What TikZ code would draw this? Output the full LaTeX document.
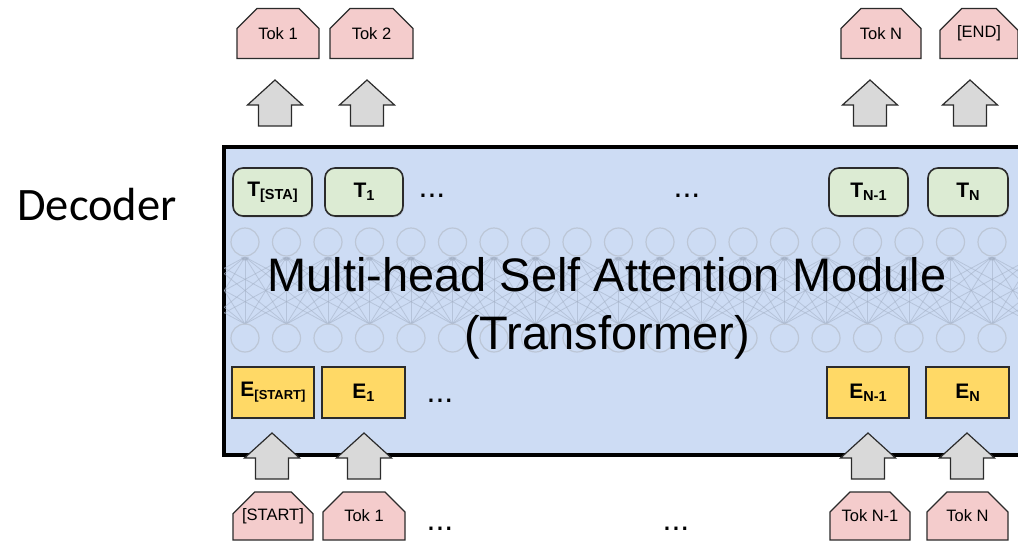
\documentclass[tikz,border=0pt]{standalone}
\usepackage{fontspec}
\setmainfont{Liberation Sans}
\newfontfamily\calfont{Carlito}
\usetikzlibrary{shapes.misc,shadows,calc,arrows.meta}
\definecolor{boxblue}{HTML}{CDDCF4}
\definecolor{tokpink}{HTML}{F4CCCC}
\definecolor{tgreen}{HTML}{DCEBD3}
\definecolor{eyellow}{HTML}{FFD966}
\definecolor{arrgray}{HTML}{D9D9D9}
\definecolor{netcirc}{HTML}{BCC6D6}
\definecolor{netline}{HTML}{A3B0C5}
\definecolor{edge}{HTML}{2B2B2B}
\newcommand{\lowsub}[2]{\raisebox{-3pt}{\fontsize{#1}{#1}\selectfont #2}}
\begin{document}
\begin{tikzpicture}[x=1pt,y=-1pt,
  tokbox/.style={chamfered rectangle, chamfered rectangle corners={north west,north east},
    chamfered rectangle xsep=10pt, chamfered rectangle ysep=14pt,
    draw=edge, line width=1.3pt, fill=tokpink, inner sep=0pt,
    minimum height=50pt, font=\fontsize{16.5}{16.5}\selectfont},
  tbox/.style={draw=edge, line width=1.6pt, rounded corners=10pt, fill=tgreen,
    minimum width=79pt, minimum height=48pt, inner sep=0pt,
    drop shadow={shadow xshift=1pt, shadow yshift=-1.5pt, opacity=0.25},
    font=\bfseries\fontsize{21}{21}\selectfont},
  ebox/.style={draw=edge, line width=1.6pt, fill=eyellow,
    minimum width=82pt, minimum height=51pt, inner sep=0pt,
    font=\bfseries\fontsize{21}{21}\selectfont},
  dotsnode/.style={anchor=base, inner sep=0pt, font=\fontsize{32}{32}\selectfont},
  netcircle/.style={draw=netcirc, line width=1.2pt},
  netedge/.style={draw=netline, line width=0.8pt, opacity=0.55},
  blockup/.pic={\draw[fill=arrgray, draw=edge, line width=1.2pt, line join=miter]
    (0pt,0pt) -- (27.5pt,-25pt) -- (16.5pt,-25pt) -- (16.5pt,-46pt) -- (-16.5pt,-46pt)
    -- (-16.5pt,-25pt) -- (-27.5pt,-25pt) -- cycle;}
]
\clip (0,0) rectangle (1018,541);
\fill[white] (0,0) rectangle (1018,541);

% main decoder box
\node[draw=black, line width=4pt, fill=boxblue, anchor=north west,
  minimum width=830pt, minimum height=308pt, inner sep=0pt] (dec) at (222,145) {};

% faint network in the background
\begin{scope}
\clip (224,147) rectangle (1018,451);
\foreach \i in {-4,...,22} {
  \foreach \d in {-3,...,3} {
    \pgfmathsetmacro{\xa}{245+41.5*\i}
    \pgfmathsetmacro{\xb}{245+41.5*(\i+\d)}
    \draw[netedge, -{Stealth[length=4pt,width=3pt]}] (\xa,324) -- (\xb,257);
  }
}
\foreach \i in {-1,...,19} {
  \pgfmathsetmacro{\xc}{245+41.5*\i}
  \draw[netcircle] (\xc,242) circle (14pt);
  \draw[netcircle] (\xc,338) circle (14pt);
}
\end{scope}

% title
\node[align=center, inner sep=0pt, font=\fontsize{47}{58}\selectfont] (title) at (607,308)
  {Multi-head Self Attention Module\\(Transformer)};

% label
\node[anchor=base, inner sep=0pt, font=\calfont\fontsize{46.5}{54}\selectfont] (declabel) at (97,220) {Decoder};

% output tokens
\node[tokbox, minimum width=82pt] (otok1) at (278,33.5) {Tok 1};
\node[tokbox, minimum width=83pt] (otok2) at (371.5,33.5) {Tok 2};
\node[tokbox, minimum width=80pt] (otokN) at (881,33.5) {Tok N};
\node[tokbox, minimum width=78pt] (oend) at (979,33.5) {[END]};

% T nodes
\node[tbox] (tsta) at (272.5,192) {T\lowsub{14.5}{[STA]}};
\node[tbox, minimum width=78pt] (t1) at (364,192) {T\lowsub{14.5}{1}};
\node[tbox] (tn1) at (868.5,192) {T\lowsub{14.5}{N-1}};
\node[tbox, minimum width=80pt] (tn) at (968,192) {T\lowsub{14.5}{N}};
\node[dotsnode] (tdots1) at (432,197) {...};
\node[dotsnode] (tdots2) at (687,197) {...};

% E nodes
\node[ebox] (esta) at (273,392.5) {E\lowsub{13}{[START]}};
\node[ebox, minimum width=83pt] (e1) at (363.5,392.5) {E\lowsub{14.5}{1}};
\node[ebox] (en1) at (868,392.5) {E\lowsub{14.5}{N-1}};
\node[ebox, minimum width=83pt] (en) at (967.5,392.5) {E\lowsub{14.5}{N}};
\node[dotsnode] (edots) at (440,402) {...};

% input tokens
\node[tokbox, minimum width=80pt, minimum height=48pt] (itsta) at (273,516) {[START]};
\node[tokbox, minimum width=82pt, minimum height=48pt] (itok1) at (364,516) {Tok 1};
\node[tokbox, minimum width=80pt, minimum height=48pt] (itokn1) at (870,516) {Tok N-1};
\node[tokbox, minimum width=81pt, minimum height=48pt] (itokn) at (967.5,516) {Tok N};
\node[dotsnode] (idots1) at (440,530) {...};
\node[dotsnode] (idots2) at (676,530) {...};

% block arrows: input -> embeddings
\pic at (272,433) {blockup};
\pic at (364,433) {blockup};
\pic at (868,433) {blockup};
\pic at (967,433) {blockup};
% block arrows: outputs -> tokens
\pic at (275,80) {blockup};
\pic at (367,80) {blockup};
\pic at (870,80) {blockup};
\pic at (970,80) {blockup};
\end{tikzpicture}
\end{document}
